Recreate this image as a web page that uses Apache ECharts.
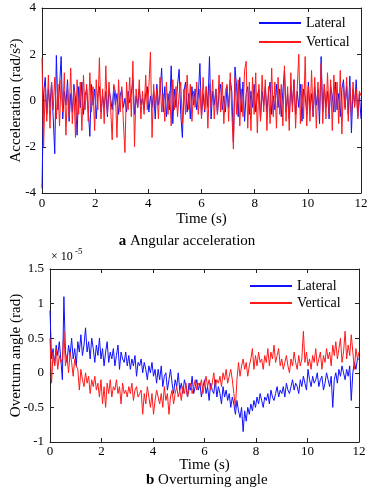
<!DOCTYPE html>
<html><head><meta charset="utf-8">
<script src="https://cdn.jsdelivr.net/npm/echarts@6/dist/echarts.min.js"></script>
<style>html,body{margin:0;padding:0;background:#fff}#c{width:374px;height:497px}</style>
</head><body><div id="c"></div>
<script>
// time step (s) between samples
const dt = 0.06;
const xTicks = [0, 2, 4, 6, 8, 10, 12];
const accTicks = [-4, -2, 0, 2, 4];
const angTicks = [-1, -0.5, 0, 0.5, 1, 1.5];

// (a) Angular acceleration (rad/s^2)
const accLateral = [
-3.8,0.3,1.0,-0.6,0.5,-0.3,0.8,-0.7,-2.3,1.95,
-0.4,0.6,1.9,-0.8,0.4,-0.2,0.9,-0.9,0.3,-0.5,
0.7,0.1,-1.5,0.6,-0.3,0.8,-0.6,0.2,0.5,-0.4,
-1.55,0.7,-0.2,0.5,-0.8,0.3,0.6,-0.5,0.2,-0.3,
0.4,-0.7,0.5,0.1,-0.4,0.6,-0.2,0.3,-0.6,0.2,
0.5,-0.3,0.1,-0.5,0.4,-0.1,0.3,0.9,-0.6,0.2,
-0.3,0.5,-0.2,0.1,-0.4,0.3,0.6,-0.5,0.2,-0.3,
0.4,-0.8,0.7,-0.2,0.3,1.4,-0.5,0.6,-0.7,0.3,
-0.4,1.5,-1.0,0.5,-0.3,0.7,1.35,-0.6,-1.6,0.4,
0.8,-0.5,0.3,-0.8,0.6,-0.2,0.5,-0.4,0.2,1.6,
-0.7,0.3,-0.5,0.6,-0.3,1.9,-0.8,0.4,-0.2,0.5,
-0.6,0.3,0.7,-0.4,0.2,-0.5,0.6,-0.3,0.9,0.4,
-1.8,1.45,0.6,-0.7,1.0,-0.5,0.8,-0.9,0.3,0.6,
-0.6,0.4,-0.3,0.7,-0.5,0.2,0.5,-0.8,0.4,-0.2,
0.6,-0.5,0.3,0.8,-0.6,0.2,-0.4,0.7,-0.3,0.5,
-0.7,0.4,1.3,-0.5,0.3,-0.8,0.6,-0.2,0.9,-0.6,
0.4,-0.3,0.7,-0.9,0.5,0.2,-0.6,0.8,-0.4,0.3,
-0.7,0.6,-0.2,0.5,-1.0,1.9,-0.5,0.7,-0.3,0.4,
-0.8,0.6,0.2,-0.5,0.8,-0.4,0.3,-0.7,0.5,0.9,
-0.3,0.6,-0.6,1.05,-1.4,0.5,-0.2,0.9,-0.7,0.3,
-0.8];
const accVertical = [
1.85,-2.0,0.6,-0.9,1.1,-1.2,0.8,-0.4,1.0,-0.8,
0.7,-1.1,0.9,-0.5,1.2,-1.5,0.6,-0.7,1.4,-1.0,
0.5,-1.6,0.9,-0.6,0.8,-1.3,1.1,-0.4,0.7,-0.9,
1.2,-0.5,0.6,-1.3,0.9,-0.4,1.85,-0.8,0.5,-1.0,
1.5,-0.6,0.8,-0.3,-1.7,0.7,0.4,-1.6,0.9,-0.5,
0.6,-0.9,-2.25,0.8,-0.4,1.0,-0.7,1.7,-2.0,0.5,
-0.3,0.9,-0.8,0.4,-0.6,1.1,-0.4,0.6,2.1,-1.6,
0.7,-0.3,0.5,-0.8,1.0,-0.5,0.3,-0.9,0.8,-0.6,
0.4,-1.1,0.9,-0.4,0.6,-0.7,0.3,0.8,-1.0,0.5,
-0.6,1.1,-0.4,0.7,-0.9,0.4,-0.3,0.8,-0.6,0.5,
-0.8,1.0,-0.4,0.6,-1.2,0.7,-0.3,0.9,-0.8,0.5,
-0.6,1.1,-0.5,0.8,-1.0,0.4,0.7,-0.9,1.2,-0.5,
-2.1,1.0,-0.6,0.9,-1.1,0.5,-0.7,1.3,1.7,-1.2,
0.8,-1.3,1.0,-0.6,1.2,-1.4,0.7,-0.9,1.1,-0.5,
0.9,-1.3,0.6,-1.0,1.4,-0.7,0.8,-1.2,1.0,-0.6,
0.7,-1.1,1.5,-0.9,0.6,-1.3,1.2,-0.5,0.9,-1.2,
0.5,2.0,-1.0,0.7,-0.8,1.9,-1.1,0.6,-0.9,1.3,
-0.7,1.0,-1.2,0.8,-0.5,1.6,-1.0,0.7,-0.8,1.2,
-0.6,0.9,-1.3,1.1,-0.5,0.8,-1.0,1.3,-1.45,0.7,
-0.4,1.0,-0.9,0.6,-0.7,0.8,-0.3,0.5,-0.8,0.4,
0.2];

// (b) Overturning angle (x 10^-5 rad)
const angLateral = [
0.9,0.2,0.35,0.1,0.4,0.25,0.45,0.2,-0.1,1.1,
0.3,0.15,0.4,0.25,0.5,0.2,0.35,0.1,0.45,0.3,
0.55,0.25,0.4,0.65,0.3,0.45,0.2,0.5,0.35,0.15,
0.4,0.25,0.5,0.2,0.35,0.1,0.3,0.45,0.15,0.3,
0.2,0.35,0.1,0.25,0.4,0.05,0.3,0.2,0.15,0.3,
0.1,0.25,0.05,0.2,0.1,0.25,-0.05,0.15,0.1,0.2,
0.0,0.15,0.05,-0.1,0.1,0.0,0.15,-0.05,0.05,-0.15,
0.05,-0.1,0.1,-0.2,-0.05,0.0,-0.25,-0.1,0.05,-0.15,
-0.3,-0.1,-0.2,0.0,-0.25,-0.15,-0.3,-0.1,-0.2,-0.35,
-0.15,-0.25,-0.05,-0.3,-0.2,-0.1,-0.25,-0.15,-0.35,-0.2,
-0.1,-0.3,-0.2,-0.4,-0.15,-0.25,-0.3,-0.1,-0.35,-0.2,
-0.3,-0.45,-0.2,-0.35,-0.25,-0.4,-0.3,-0.5,-0.35,-0.45,
-0.6,-0.4,-0.55,-0.65,-0.5,-0.85,-0.55,-0.7,-0.5,-0.6,
-0.45,-0.55,-0.4,-0.5,-0.35,-0.45,-0.3,-0.4,-0.5,-0.35,
-0.4,-0.3,-0.45,-0.25,-0.35,-0.4,-0.3,-0.2,-0.35,-0.25,
-0.3,-0.2,-0.35,-0.15,-0.25,-0.3,-0.2,-0.1,-0.25,-0.15,
-0.2,-0.3,-0.1,-0.2,-0.05,-0.15,-0.25,0.05,-0.1,-0.2,
-0.05,-0.15,-0.1,0.0,-0.2,-0.1,-0.05,-0.25,-0.15,0.0,
-0.1,-0.2,-0.05,-0.5,-0.1,0.0,-0.15,0.05,-0.05,0.1,
0.0,-0.1,0.05,-0.05,0.1,-0.4,0.0,0.15,0.05,0.2,
0.2];
const angVertical = [
0.5,-0.15,0.3,0.1,0.35,0.05,0.25,0.15,0.2,0.6,
0.1,0.25,0.0,0.3,0.15,-0.05,0.2,0.1,0.05,-0.25,
0.05,-0.1,-0.2,0.0,-0.15,-0.05,-0.3,-0.1,-0.2,-0.05,
-0.25,-0.15,-0.35,-0.1,-0.45,-0.2,-0.5,-0.15,-0.3,-0.1,
-0.35,-0.2,-0.25,-0.1,-0.3,-0.2,-0.45,-0.15,-0.3,-0.25,
-0.35,-0.2,-0.3,-0.15,-0.4,-0.25,-0.2,-0.35,-0.3,-0.25,
-0.6,-0.3,-0.45,-0.2,-0.35,-0.5,-0.3,-0.6,-0.4,-0.25,
-0.35,-0.45,-0.3,-0.5,-0.2,-0.4,-0.3,-0.6,-0.35,-0.25,
-0.45,-0.3,-0.2,-0.35,-0.25,-0.4,-0.2,-0.3,-0.15,-0.35,
-0.25,-0.15,-0.3,-0.2,-0.1,-0.25,-0.15,-0.2,-0.1,-0.3,
-0.15,-0.05,-0.2,-0.1,-0.25,-0.15,0.0,-0.2,-0.1,-0.15,
-0.05,-0.2,0.0,-0.1,0.05,-0.15,-0.05,0.05,-0.1,-0.3,
-0.5,-0.1,0.15,-0.05,0.1,0.2,0.05,0.15,-0.05,0.1,
0.2,0.35,0.05,0.25,0.1,0.3,0.15,0.2,0.05,0.25,
0.15,0.35,0.1,0.3,0.2,0.4,0.15,0.25,0.35,0.1,
0.2,0.05,0.15,0.25,0.1,0.0,0.2,0.1,0.3,0.15,
0.05,0.25,0.1,0.2,0.6,0.15,0.3,0.1,0.2,0.05,
0.25,0.15,0.35,0.1,0.2,0.3,0.05,0.25,0.15,0.35,
0.2,0.3,0.1,0.4,0.25,0.45,0.2,0.35,0.5,0.15,
0.3,0.6,0.2,0.4,0.25,0.55,0.3,0.05,0.35,0.2,
0.3];

const FONT = '"Liberation Serif", "DejaVu Serif", serif';
const pairs = arr => arr.map((v, i) => [+(i * dt).toFixed(2), v]);
const blue = '#1010ff', red = '#ff1a1a';
const lineC = '#222';

function xAx(grid, ticks, showLabel, pos, name, gap, margin) {
  return {
    type: 'value', gridIndex: grid, position: pos,
    min: ticks[0], max: ticks[ticks.length - 1], interval: ticks[1] - ticks[0],
    name: name || '', nameLocation: 'middle', nameGap: gap || 0, nameMoveOverlap: false,
    nameTextStyle: { fontFamily: FONT, fontSize: 15, color: '#000' },
    axisLine: { show: true, onZero: false, lineStyle: { color: lineC, width: 1 } },
    axisTick: { show: true, inside: true, length: 4, lineStyle: { color: lineC } },
    axisLabel: { show: showLabel, margin: margin || 4, fontFamily: FONT, fontSize: 13, color: '#000' },
    splitLine: { show: false }
  };
}
function yAx(grid, ticks, showLabel, pos, name, gap, margin) {
  return {
    type: 'value', gridIndex: grid, position: pos,
    min: ticks[0], max: ticks[ticks.length - 1], interval: ticks[1] - ticks[0],
    name: name || '', nameLocation: 'middle', nameGap: gap || 0, nameMoveOverlap: false,
    nameTextStyle: { fontFamily: FONT, fontSize: 15, color: '#000' },
    axisLine: { show: true, onZero: false, lineStyle: { color: lineC, width: 1 } },
    axisTick: { show: true, inside: true, length: 4, lineStyle: { color: lineC } },
    axisLabel: { show: showLabel, margin: margin || 5, fontFamily: FONT, fontSize: 13, color: '#000' },
    splitLine: { show: false }
  };
}
const legendBase = {
  orient: 'vertical', itemWidth: 42, itemHeight: 14,
  textStyle: { fontFamily: FONT, fontSize: 14, color: '#000' },
  itemStyle: { opacity: 0, borderWidth: 0 },
  data: ['Lateral', 'Vertical']
};

const chart = echarts.init(document.getElementById('c'), null, { renderer: 'canvas' });
chart.setOption({
  animation: false,
  backgroundColor: '#fff',
  grid: [
    { left: 42, top: 8, right: 13, height: 185 },
    { left: 50, top: 269, right: 15, height: 173 }
  ],
  xAxis: [
    xAx(0, xTicks, true, 'bottom', 'Time (s)', 19, 4),
    xAx(0, xTicks, false, 'top'),
    xAx(1, xTicks, true, 'bottom', 'Time (s)', 16, 3),
    xAx(1, xTicks, false, 'top')
  ],
  yAxis: [
    yAx(0, accTicks, true, 'left', 'Acceleration (rad/s\u00B2)', 18, 6),
    yAx(0, accTicks, false, 'right'),
    yAx(1, angTicks, true, 'left', 'Overturn angle (rad)', 26, 6),
    yAx(1, angTicks, false, 'right')
  ],
  legend: [
    Object.assign({}, legendBase, { left: 253, top: 11, itemGap: 5 }),
    Object.assign({}, legendBase, { left: 244, top: 274, itemGap: 3 })
  ],
  series: [
    { name: 'Lateral', type: 'line', xAxisIndex: 0, yAxisIndex: 0, data: pairs(accLateral),
      symbol: 'none', lineStyle: { color: blue, width: 1 }, itemStyle: { color: blue } },
    { name: 'Vertical', type: 'line', xAxisIndex: 0, yAxisIndex: 0, data: pairs(accVertical),
      symbol: 'none', lineStyle: { color: red, width: 1 }, itemStyle: { color: red } },
    { name: 'Lateral', type: 'line', xAxisIndex: 2, yAxisIndex: 2, data: pairs(angLateral),
      symbol: 'none', lineStyle: { color: blue, width: 1 }, itemStyle: { color: blue } },
    { name: 'Vertical', type: 'line', xAxisIndex: 2, yAxisIndex: 2, data: pairs(angVertical),
      symbol: 'none', lineStyle: { color: red, width: 1 }, itemStyle: { color: red } }
  ],
  graphic: [
    { type: 'text', left: 'center', top: 234,
      style: { text: '{b|a} Angular acceleration', fontFamily: FONT, fontSize: 15, fill: '#000',
        rich: { b: { fontFamily: FONT, fontSize: 15, fontWeight: 'bold', fill: '#000' } } }, x: 8 },
    { type: 'text', left: 146, top: 473,
      style: { text: '{b|b} Overturning angle', fontFamily: FONT, fontSize: 15, fill: '#000',
        rich: { b: { fontFamily: FONT, fontSize: 15, fontWeight: 'bold', fill: '#000' } } } },
    { type: 'text', left: 51, top: 251,
      style: { text: '\u00D7 10', fontFamily: FONT, fontSize: 12, fill: '#000' } },
    { type: 'text', left: 75, top: 247,
      style: { text: '-5', fontFamily: FONT, fontSize: 9, fill: '#000' } }
  ]
});
</script>
</body></html>
